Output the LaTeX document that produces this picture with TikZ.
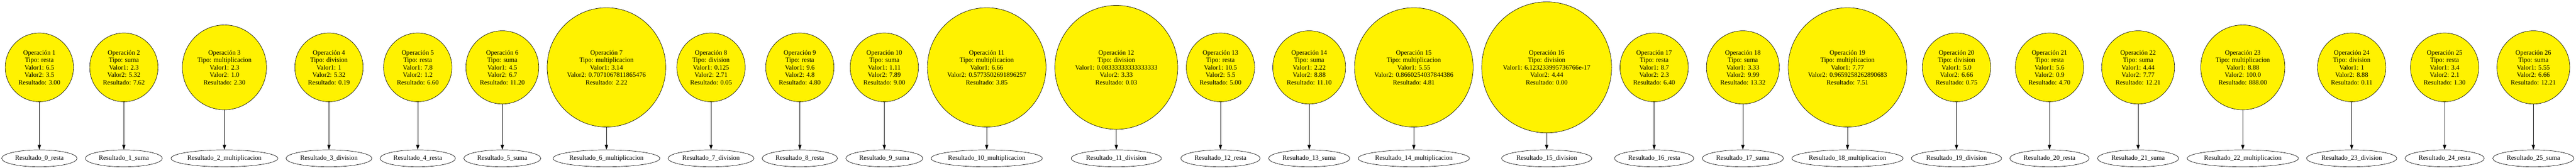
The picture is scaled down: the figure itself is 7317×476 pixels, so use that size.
\documentclass[tikz,border=0pt]{standalone}
\usepackage{fontspec}
\setmainfont{Liberation Serif}
\usetikzlibrary{shapes.geometric,arrows.meta}
\tikzset{
  opbox/.style={ellipse,draw=black,line width=0.75pt,fill=yellow,inner sep=0pt,align=center,
    font=\fontsize{14pt}{15.9pt}\selectfont},
  resbox/.style={ellipse,draw=black,line width=0.75pt,fill=white,inner sep=0pt,minimum height=36pt,
    font=\fontsize{14pt}{15.9pt}\selectfont},
  edge/.style={draw=black,line width=0.75pt,-{Triangle[length=10.5pt,width=7pt]}},
  sA/.style={minimum width=145.5pt,minimum height=146.5pt},
  sB/.style={minimum width=155.25pt,minimum height=156pt},
  sC/.style={minimum width=179.25pt,minimum height=180.75pt},
  sD/.style={minimum width=252.75pt,minimum height=254.25pt},
  sE/.style={minimum width=261.75pt,minimum height=264pt},
  sF/.style={minimum width=276.75pt,minimum height=279pt},
  wRa/.style={minimum width=160.5pt},
  wRb/.style={minimum width=169pt},
  wSa/.style={minimum width=164pt},
  wSb/.style={minimum width=173pt},
  wMa/.style={minimum width=227.5pt},
  wMb/.style={minimum width=237pt},
  wDa/.style={minimum width=183pt},
  wDb/.style={minimum width=192pt},
}
% #1 op index, #2 result index, #3 x (px), #4 size style, #5 tipo, #6 valor1, #7 valor2, #8 resultado, #9 result width style
\newcommand\mkoperation[9]{%
  \node[opbox,#4] (op#1) at (#3,191.3) {Operación #1\\Tipo: #5\\Valor1: #6\\Valor2: #7\\Resultado: #8};
  \node[resbox,#9] (res#2) at (#3,449.7) {Resultado\_#2\_#5};
  \draw[edge] (op#1) -- (res#2);
}
\begin{document}
\begin{tikzpicture}[x=0.75pt,y=-0.75pt]
  \useasboundingbox[fill=white] (0,0) rectangle (7317,476);
  \mkoperation{1}{0}{111.8}{sA}{resta}{6.5}{3.5}{3.00}{wRa}
  \mkoperation{2}{1}{351.8}{sA}{suma}{2.3}{5.32}{7.62}{wSa}
  \mkoperation{3}{2}{637.5}{sC}{multiplicacion}{2.3}{1.0}{2.30}{wMa}
  \mkoperation{4}{3}{934.4}{sA}{division}{1}{5.32}{0.19}{wDa}
  \mkoperation{5}{4}{1186.6}{sA}{resta}{7.8}{1.2}{6.60}{wRa}
  \mkoperation{6}{5}{1426.8}{sB}{suma}{4.5}{6.7}{11.20}{wSa}
  \mkoperation{7}{6}{1722.6}{sD}{multiplicacion}{3.14}{0.7071067811865476}{2.22}{wMa}
  \mkoperation{8}{7}{2019.6}{sA}{division}{0.125}{2.71}{0.05}{wDa}
  \mkoperation{9}{8}{2271.9}{sA}{resta}{9.6}{4.8}{4.80}{wRa}
  \mkoperation{10}{9}{2511.8}{sA}{suma}{1.11}{7.89}{9.00}{wSa}
  \mkoperation{11}{10}{2802.7}{sD}{multiplicacion}{6.66}{0.5773502691896257}{3.85}{wMb}
  \mkoperation{12}{11}{3170.8}{sE}{division}{0.08333333333333333}{3.33}{0.03}{wDb}
  \mkoperation{13}{12}{3466.6}{sA}{resta}{10.5}{5.5}{5.00}{wRb}
  \mkoperation{14}{13}{3718.7}{sB}{suma}{2.22}{8.88}{11.10}{wSb}
  \mkoperation{15}{14}{4015.9}{sD}{multiplicacion}{5.55}{0.8660254037844386}{4.81}{wMb}
  \mkoperation{16}{15}{4393.2}{sF}{division}{6.123233995736766e-17}{4.44}{0.00}{wDb}
  \mkoperation{17}{16}{4698.5}{sA}{resta}{8.7}{2.3}{6.40}{wRb}
  \mkoperation{18}{17}{4950.5}{sB}{suma}{3.33}{9.99}{13.32}{wSb}
  \mkoperation{19}{18}{5247.7}{sD}{multiplicacion}{7.77}{0.9659258262890683}{7.51}{wMb}
  \mkoperation{20}{19}{5557.3}{sA}{division}{5.0}{6.66}{0.75}{wDb}
  \mkoperation{21}{20}{5821.4}{sA}{resta}{5.6}{0.9}{4.70}{wRb}
  \mkoperation{22}{21}{6073.1}{sB}{suma}{4.44}{7.77}{12.21}{wSb}
  \mkoperation{23}{22}{6370.5}{sC}{multiplicacion}{8.88}{100.0}{888.00}{wMb}
  \mkoperation{24}{23}{6679.8}{sA}{division}{1}{8.88}{0.11}{wDb}
  \mkoperation{25}{24}{6943.7}{sA}{resta}{3.4}{2.1}{1.30}{wRb}
  \mkoperation{26}{25}{7195.8}{sB}{suma}{5.55}{6.66}{12.21}{wSb}
\end{tikzpicture}
\end{document}
